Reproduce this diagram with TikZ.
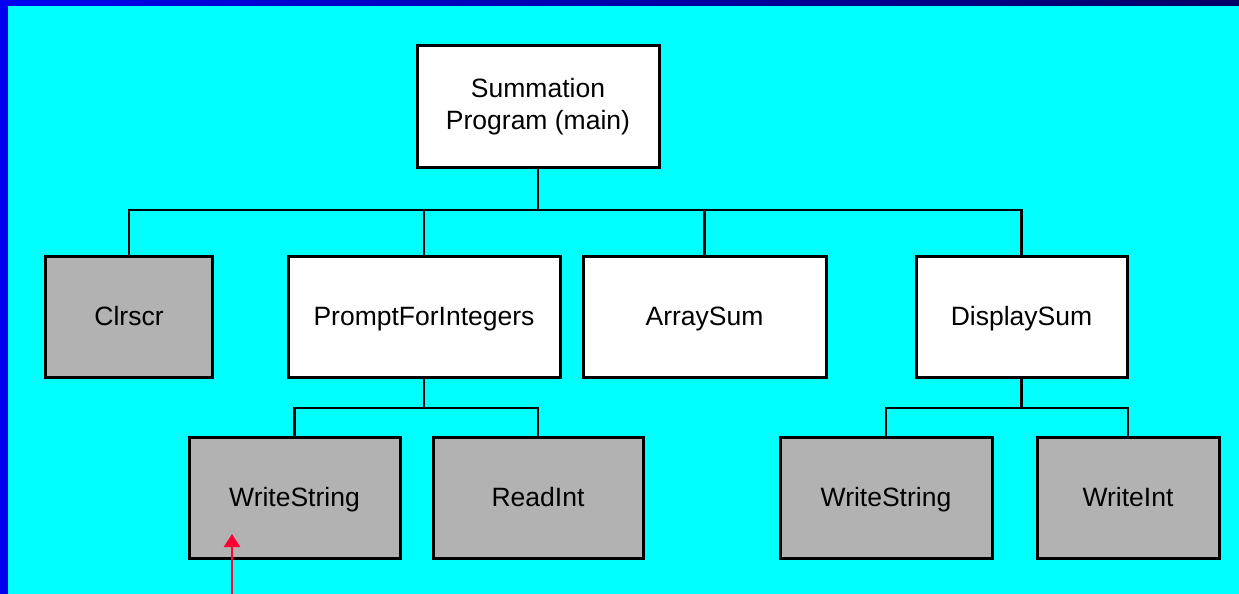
\documentclass[tikz,border=0pt]{standalone}
\usepackage{fontspec}
\setmainfont{Liberation Sans}
\usetikzlibrary{arrows.meta}
\definecolor{bgcyan}{RGB}{0,255,255}
\definecolor{edgeblue}{RGB}{0,0,240}
\definecolor{edgenavy}{RGB}{0,0,100}
\definecolor{libgrey}{RGB}{178,178,178}
\definecolor{pointer}{RGB}{255,0,51}
\tikzset{
  module/.style={draw=black, line width=3bp, fill=white, inner sep=0pt,
    font=\fontsize{26.5bp}{32bp}\selectfont, align=center},
  oneline/.style={module, text height=19bp, text depth=2bp},
  library/.style={oneline, fill=libgrey},
  link/.style={draw=black, line width=2.8bp},
}
\begin{document}
\begin{tikzpicture}[x=1bp, y=-1bp]
  \useasboundingbox (0,0) rectangle (1239,594);
  % backdrop with its blue frame
  \fill[bgcyan] (0,0) rectangle (1239,594);
  \shade[left color=edgeblue, right color=edgenavy] (0,0) rectangle (1239,6);
  \fill[edgeblue] (0,0) rectangle (8,594);

  % module boxes
  \node[module, minimum width=242bp, minimum height=122bp] (main) at (538,107)
    {Summation\\Program (main)};
  \node[library, minimum width=166bp, minimum height=121bp] (clr) at (129,317) {Clrscr};
  \node[oneline, minimum width=272bp, minimum height=121bp] (prompt) at (424,317) {PromptForIntegers};
  \node[oneline, minimum width=243bp, minimum height=121bp] (asum) at (704.5,317) {ArraySum};
  \node[oneline, minimum width=211bp, minimum height=121bp] (dsum) at (1021.5,317) {DisplaySum};
  \node[library, minimum width=211bp, minimum height=121bp] (ws1) at (294.5,498) {WriteString};
  \node[library, minimum width=210bp, minimum height=121bp] (ri) at (538,498) {ReadInt};
  \node[library, minimum width=212bp, minimum height=121bp] (ws2) at (886,498) {WriteString};
  \node[library, minimum width=182bp, minimum height=121bp] (wi) at (1128,498) {WriteInt};

  % call hierarchy
  \coordinate (bus) at (538,210);
  \coordinate (pbus) at (424,408);
  \coordinate (dbus) at (1021.5,408);
  \draw[link] (main.south) -- (bus);
  \draw[link] (clr.north) |- (bus);
  \draw[link] (prompt.north) |- (bus);
  \draw[link] (asum.north) |- (bus);
  \draw[link] (dsum.north) |- (bus);
  \draw[link] (prompt.south) -- (pbus);
  \draw[link] (ws1.north) |- (pbus);
  \draw[link] (ri.north) |- (pbus);
  \draw[link] (dsum.south) -- (dbus);
  \draw[link] (ws2.north) |- (dbus);
  \draw[link] (wi.north) |- (dbus);

  % pointer from below
  \coordinate (ptail) at (232,594);
  \coordinate (ptip) at (232,534);
  \draw[pointer, line width=2.5bp, -{Triangle[width=16bp, length=13bp]}] (ptail) -- (ptip);
\end{tikzpicture}
\end{document}
